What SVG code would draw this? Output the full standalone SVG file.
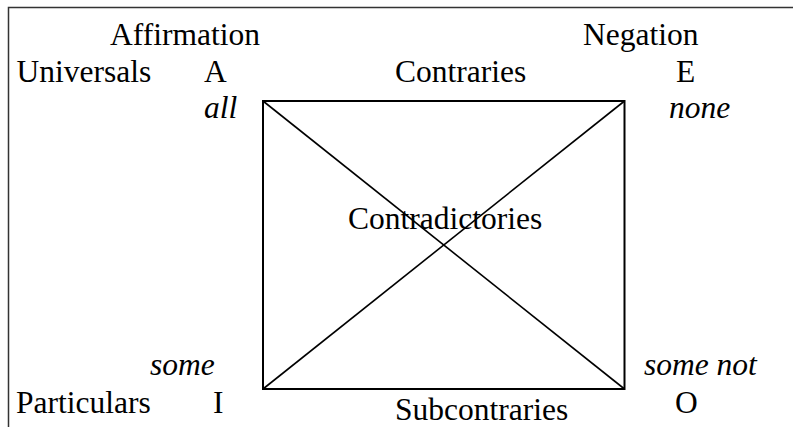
<svg xmlns="http://www.w3.org/2000/svg" width="793" height="427" viewBox="0 0 793 427">
<style>
  text { font-family: "Liberation Serif", "Times New Roman", serif; font-size: 31.5px; fill: #000; }
  .it { font-style: italic; }
  .frame { stroke: #333; stroke-width: 1.5; fill: none; }
  .box { stroke: #000; stroke-width: 2; fill: none; }
  .diag { stroke: #000; stroke-width: 1.6; fill: none; }
</style>
<rect width="793" height="427" fill="#fff"/>
<g id="frame">
  <path class="frame" d="M8.5,427 L8.5,7.5 L793,7.5"/>
</g>
<g id="headers">
  <text x="110" y="45">Affirmation</text>
  <text x="583" y="45">Negation</text>
  <text x="16.5" y="82">Universals</text>
  <text x="16" y="413">Particulars</text>
</g>
<g id="node-A">
  <text x="204" y="82">A</text>
  <text class="it" x="204" y="118">all</text>
</g>
<g id="node-E">
  <text x="676" y="82">E</text>
  <text class="it" x="669" y="118">none</text>
</g>
<g id="node-I">
  <text x="213" y="413">I</text>
  <text class="it" x="150" y="375">some</text>
</g>
<g id="node-O">
  <text x="675" y="413">O</text>
  <text class="it" x="644" y="375">some not</text>
</g>
<g id="connectors">
  <rect class="box" x="263" y="101" width="361.5" height="288"/>
  <line class="diag" x1="263" y1="101" x2="624.5" y2="389"/>
  <line class="diag" x1="624.5" y1="101" x2="263" y2="389"/>
</g>
<g id="labels">
  <text x="395" y="82">Contraries</text>
  <text x="348" y="229">Contradictories</text>
  <text x="395" y="420">Subcontraries</text>
</g>
</svg>
